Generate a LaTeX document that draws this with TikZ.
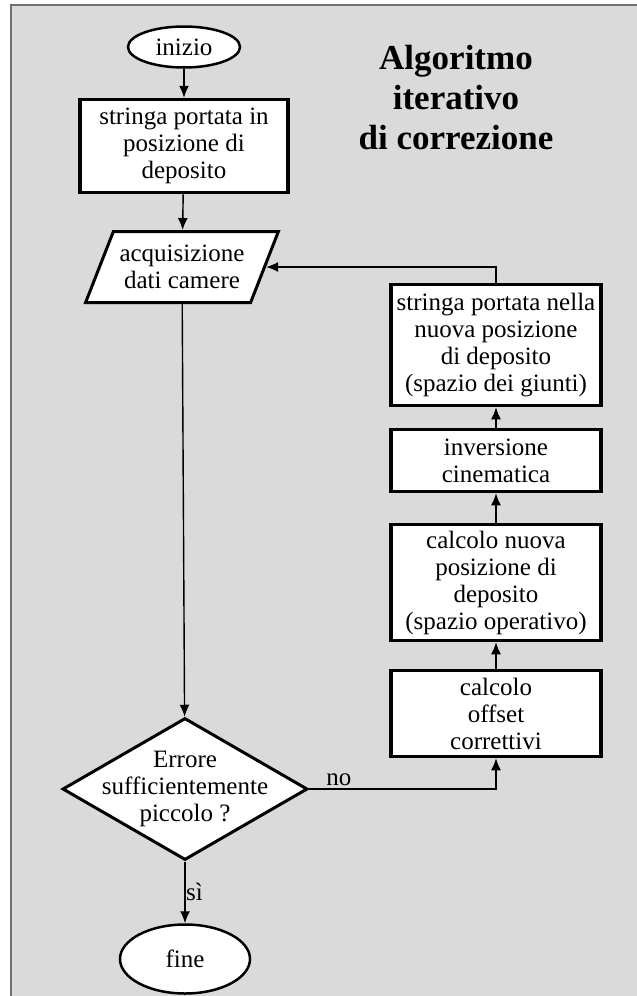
\documentclass[tikz,border=0pt]{standalone}
\usepackage{fontspec}
\setmainfont{Liberation Serif}
\usetikzlibrary{shapes.geometric,arrows.meta}
\definecolor{sfondo}{HTML}{DADADA}
\definecolor{cornice}{HTML}{707070}

\begin{document}
\begin{tikzpicture}[x=1pt,y=-1pt,>={Latex[length=12pt,width=10pt]},
  every node/.style={font=\fontsize{25}{27}\selectfont},
  blocco/.style={rectangle,draw,line width=3.5pt,fill=white,align=center,minimum width=210,inner sep=1pt},
  terminale/.style={ellipse,draw,line width=2.5pt,fill=white},
  freccia/.style={->,line width=1.4pt}]

% sfondo e cornice
\useasboundingbox (0,0) rectangle (637,996);
\fill[sfondo] (11,5) rectangle (640,1000);
\draw[cornice,line width=2pt] (11,1000) -- (11,5) -- (640,5);

\node[font=\fontsize{35}{40}\selectfont\bfseries,align=center] (titolo) at (456,98) {Algoritmo\\iterativo\\di correzione};

% colonna sinistra
\node[terminale,minimum width=112,minimum height=41] (inizio) at (184,47) {inizio};
\node[blocco,minimum width=208,minimum height=93] (deposito) at (184,146) {stringa portata in\\posizione di\\deposito};
\node[trapezium,trapezium left angle=60,trapezium right angle=120,trapezium stretches=true,
  draw,line width=3pt,fill=white,minimum width=193,minimum height=71,align=center,inner sep=0pt] (acquisizione) at (182,267) {acquisizione\\dati camere};
\node[diamond,draw,line width=3pt,fill=white,minimum width=245,minimum height=142,inner sep=0pt] (errore) at (185,789) {};
\node[align=center] (domanda) at (errore) {Errore\\sufficientemente\\piccolo ?};
\node[terminale,minimum width=130,minimum height=69] (fine) at (185,959) {fine};

% colonna destra
\node[blocco,minimum height=121] (giunti) at (496,345) {stringa portata nella\\nuova posizione\\di deposito\\(spazio dei giunti)};
\node[blocco,minimum height=62] (inversione) at (496,460.5) {inversione\\cinematica};
\node[blocco,minimum height=116] (operativo) at (496,582.5) {calcolo nuova\\posizione di\\deposito\\(spazio operativo)};
\node[blocco,minimum height=86] (offset) at (496,713.5) {calcolo\\offset\\correttivi};

% collegamenti
\draw[freccia] (inizio) -- (deposito);
\draw[freccia] (deposito) -- (acquisizione);
\draw[freccia] (acquisizione) -- (errore);
\draw[freccia] (errore) -- node[right,xshift=-3pt] {sì} (fine);
\draw[freccia] (errore.east) -| node[pos=0.08,above,yshift=-1pt] {no} (offset.south);
\draw[freccia] (offset) -- (operativo);
\draw[freccia] (operativo) -- (inversione);
\draw[freccia] (inversione) -- (giunti);
\draw[freccia] (giunti.north) |- (acquisizione.east);

\end{tikzpicture}
\end{document}
